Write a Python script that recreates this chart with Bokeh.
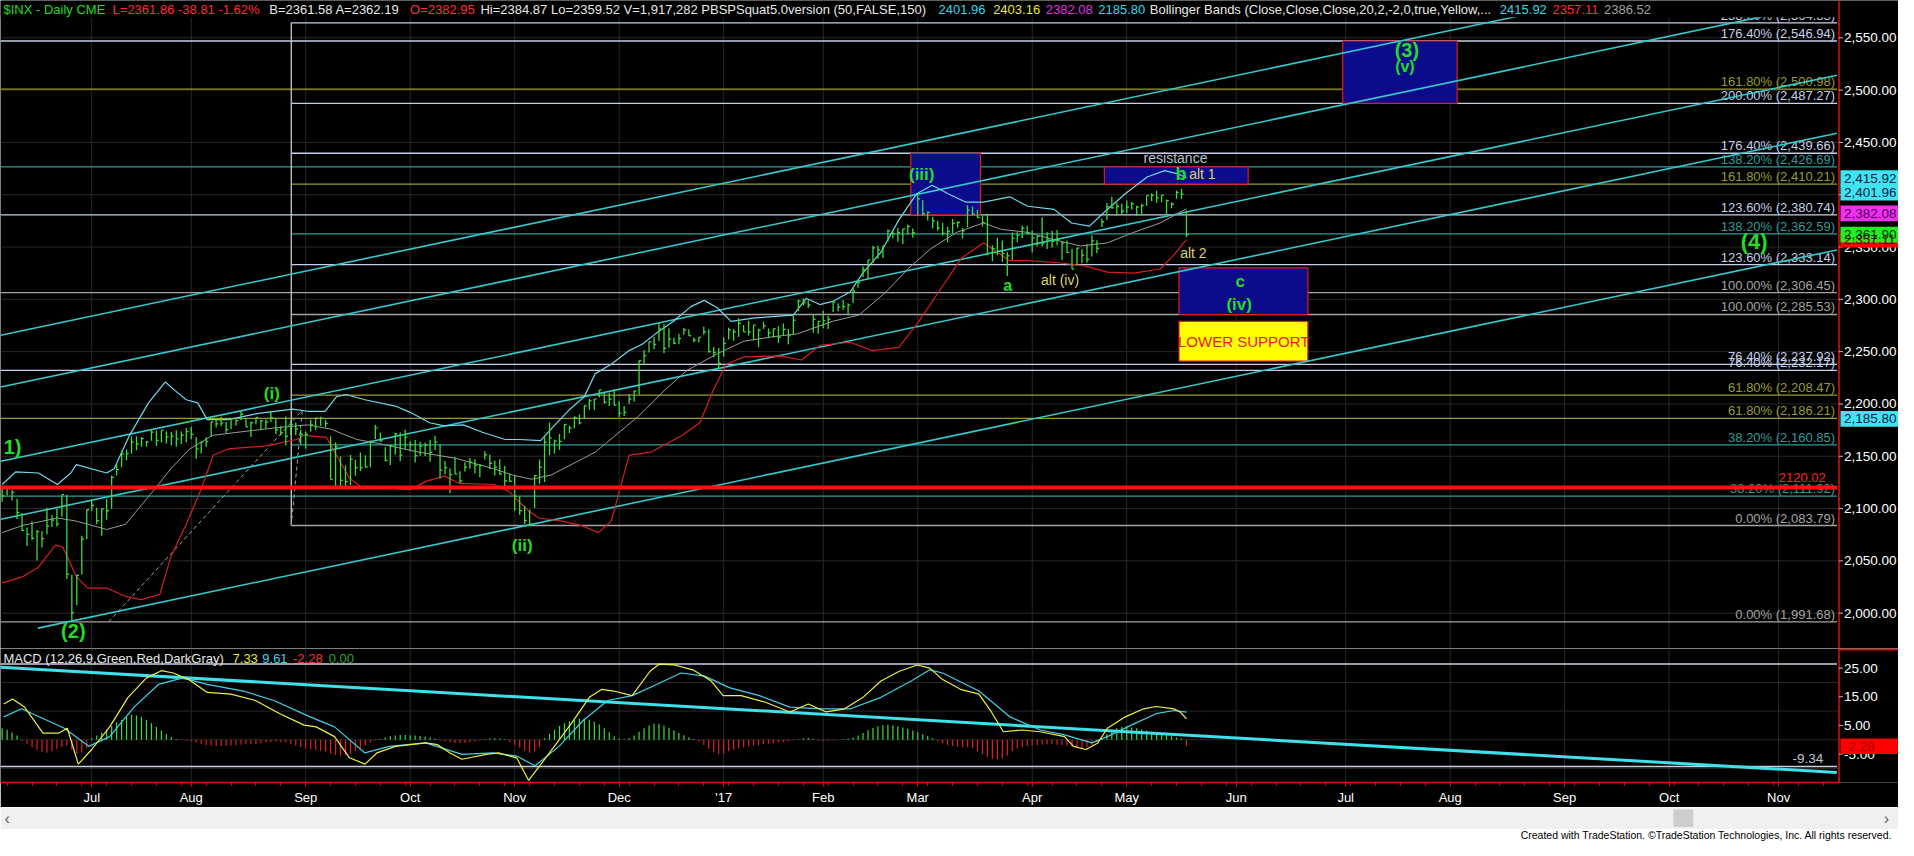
from bokeh.plotting import figure
from bokeh.models import Range1d, LinearAxis, FixedTicker
from bokeh.layouts import column
from bokeh.embed import file_html
from bokeh.resources import INLINE
from bokeh.core.properties import value

# ---------------- DATA ----------------
month_labels = ["Jul", "Aug", "Sep", "Oct", "Nov", "Dec", "'17", "Feb", "Mar", "Apr", "May",
                "Jun", "Jul", "Aug", "Sep", "Oct", "Nov"]
month_bar = [0, 20, 43, 64, 85, 106, 127, 147, 166, 189, 208, 230, 252, 273, 296, 317, 339]
first_bar = -18  # Jun 7 2016 (bar 0 = Jul 1 2016)

high = [2119.22, 2120.55, 2117.64, 2109.29, 2095.66, 2081.93, 2087.74, 2079.62, 2078.23, 2100.83, 2093.66, 2099.71, 2113.32, 2113.32, 2036.71, 2036.86, 2074.03, 2098.94,
        2108.71, 2100.72, 2100.12, 2109.08, 2131.71, 2143.16, 2155.40, 2156.45, 2168.99, 2169.05, 2168.35, 2164.63, 2175.63, 2174.56, 2175.11, 2173.71, 2173.54, 2174.98, 2173.71, 2177.09,
        2178.29, 2168.09, 2163.95, 2168.19, 2182.87, 2185.44, 2187.66, 2182.81, 2185.83, 2186.28, 2193.81, 2186.28, 2183.08, 2187.03, 2185.00, 2185.15, 2193.42, 2186.66, 2179.00, 2187.94, 2183.48, 2182.27, 2175.10,
        2173.56, 2184.87, 2186.57, 2187.87, 2184.94, 2169.08, 2163.30, 2149.99, 2141.33, 2151.31, 2146.48, 2153.61, 2150.80, 2165.11, 2179.99, 2172.67, 2158.54, 2161.13, 2172.40, 2172.67, 2175.30,
        2164.41, 2165.46, 2163.95, 2162.93, 2165.86, 2169.60, 2161.56, 2145.36, 2138.19, 2149.19, 2135.61, 2144.38, 2148.44, 2147.18, 2142.63, 2154.79, 2151.44, 2145.73, 2147.13, 2140.72, 2133.25,
        2131.45, 2111.76, 2102.56, 2099.07, 2132.00, 2146.87, 2170.10, 2182.30, 2165.92, 2171.36, 2180.84, 2179.22, 2188.06, 2189.89, 2198.70, 2204.80, 2204.72, 2213.35, 2211.10, 2210.46, 2214.10,
        2202.60, 2197.95, 2209.42, 2212.78, 2241.63, 2251.69, 2259.80, 2264.03, 2277.53, 2276.20, 2272.12, 2263.32, 2267.02, 2272.56, 2271.23, 2263.43, 2263.79, 2273.82, 2271.31, 2254.51, 2253.58,
        2263.88, 2272.82, 2271.50, 2282.10, 2275.49, 2279.27, 2275.32, 2271.78, 2278.68, 2272.08, 2272.01, 2274.33, 2276.96, 2271.78, 2284.63, 2299.55, 2300.99, 2299.02, 2286.01, 2279.09,
        2289.14, 2283.97, 2298.31, 2296.18, 2299.40, 2295.91, 2311.08, 2319.23, 2331.58, 2337.58, 2351.30, 2351.31, 2351.16, 2366.71, 2365.13, 2368.26, 2367.34, 2371.54, 2367.79,
        2400.98, 2394.75, 2383.89, 2378.80, 2375.12, 2373.09, 2369.08, 2376.86, 2374.42, 2368.55, 2390.01, 2388.71, 2385.71, 2379.50, 2381.93, 2351.81, 2358.92, 2356.22, 2344.90, 2363.78, 2364.16, 2370.35, 2370.42,
        2365.87, 2360.53, 2378.36, 2364.06, 2365.51, 2366.37, 2355.22, 2356.18, 2348.26, 2349.14, 2348.35, 2352.63, 2361.38, 2356.56, 2376.98, 2392.10, 2398.16, 2392.35, 2391.36,
        2394.49, 2392.93, 2389.82, 2391.43, 2399.29, 2401.36, 2403.87, 2399.73, 2395.46, 2392.92, 2404.05, 2405.77, 2384.87]
low = [2106.44, 2112.41, 2107.73, 2089.96, 2078.46, 2064.10, 2070.11, 2050.37, 2062.84, 2075.37, 2082.57, 2082.88, 2092.21, 2032.57, 1991.68, 2007.64, 2036.99, 2070.77,
       2097.90, 2085.10, 2074.02, 2089.39, 2099.73, 2131.71, 2139.58, 2146.21, 2152.49, 2155.79, 2159.07, 2159.01, 2164.89, 2159.75, 2163.24, 2161.95, 2160.18, 2159.07, 2161.66, 2163.49,
       2166.21, 2147.58, 2152.63, 2159.07, 2168.56, 2177.85, 2178.61, 2172.00, 2175.90, 2179.42, 2184.61, 2178.14, 2168.50, 2180.46, 2175.13, 2175.96, 2182.80, 2171.25, 2169.74, 2160.39, 2170.19, 2170.41, 2161.14,
       2157.09, 2173.59, 2175.10, 2179.07, 2177.49, 2127.81, 2119.12, 2120.33, 2119.90, 2122.36, 2131.20, 2135.91, 2139.17, 2139.57, 2166.52, 2163.97, 2145.04, 2141.55, 2151.79, 2145.20, 2156.51,
       2154.77, 2144.01, 2150.60, 2150.28, 2144.85, 2156.08, 2128.84, 2132.77, 2114.72, 2132.98, 2124.43, 2135.49, 2138.15, 2133.44, 2130.09, 2146.91, 2137.50, 2131.59, 2132.52, 2119.36, 2125.53,
       2097.85, 2094.00, 2085.23, 2083.79, 2100.59, 2123.56, 2125.35, 2151.17, 2152.49, 2156.08, 2166.38, 2172.20, 2176.65, 2180.38, 2186.43, 2194.51, 2194.11, 2206.27, 2200.36, 2198.15, 2198.81,
       2187.44, 2188.37, 2199.97, 2202.21, 2208.93, 2237.57, 2249.23, 2252.37, 2260.28, 2248.44, 2253.77, 2257.09, 2257.02, 2266.14, 2265.15, 2258.84, 2258.84, 2266.15, 2249.11, 2244.56, 2233.62,
       2245.13, 2261.60, 2260.45, 2264.06, 2268.90, 2265.27, 2260.83, 2254.25, 2271.51, 2262.81, 2263.35, 2258.41, 2265.01, 2257.02, 2266.68, 2288.88, 2294.08, 2291.62, 2268.04, 2267.21,
       2272.44, 2271.65, 2287.88, 2288.57, 2290.16, 2285.38, 2296.61, 2311.10, 2321.42, 2319.39, 2334.81, 2338.87, 2339.58, 2355.09, 2358.34, 2355.09, 2352.87, 2361.87, 2358.96,
       2380.13, 2380.17, 2375.39, 2367.98, 2365.51, 2361.01, 2354.54, 2363.04, 2368.52, 2358.18, 2368.94, 2380.11, 2377.64, 2369.66, 2341.90, 2336.45, 2342.13, 2335.74, 2322.25, 2337.63, 2354.68, 2358.58, 2362.60,
       2344.73, 2350.72, 2350.52, 2348.23, 2349.61, 2351.50, 2337.25, 2344.51, 2328.95, 2332.51, 2334.54, 2335.05, 2340.91, 2344.14, 2369.19, 2375.91, 2386.78, 2380.15, 2380.60,
       2382.36, 2385.82, 2379.75, 2380.35, 2389.38, 2393.92, 2392.44, 2392.79, 2381.68, 2387.19, 2396.05, 2396.05, 2359.52]
close = [2112.13, 2119.12, 2115.48, 2096.07, 2079.06, 2075.32, 2071.50, 2077.99, 2071.22, 2083.25, 2088.90, 2085.45, 2113.32, 2037.41, 2000.54, 2036.09, 2070.77, 2098.86,
         2102.95, 2088.55, 2099.73, 2097.90, 2129.90, 2137.16, 2152.14, 2152.43, 2163.75, 2161.74, 2166.89, 2163.78, 2173.02, 2165.17, 2175.03, 2168.48, 2169.18, 2166.58, 2170.06, 2173.60,
         2170.84, 2157.03, 2163.79, 2164.25, 2182.87, 2180.89, 2181.74, 2175.49, 2185.79, 2184.05, 2190.15, 2178.15, 2182.22, 2187.02, 2183.87, 2182.64, 2186.90, 2175.44, 2172.47, 2169.04, 2180.38, 2176.12, 2170.95,
         2170.86, 2179.98, 2186.48, 2186.16, 2181.30, 2127.81, 2159.04, 2127.02, 2125.77, 2147.26, 2139.16, 2139.12, 2139.76, 2163.12, 2177.18, 2164.69, 2146.10, 2159.93, 2171.37, 2151.13, 2168.27,
         2161.20, 2150.49, 2159.73, 2160.77, 2153.74, 2163.66, 2136.73, 2139.18, 2132.55, 2132.98, 2126.50, 2139.60, 2144.29, 2141.34, 2141.16, 2151.33, 2143.16, 2139.43, 2133.04, 2126.41, 2126.15,
         2111.72, 2097.94, 2088.66, 2085.18, 2131.52, 2139.56, 2163.26, 2167.48, 2164.45, 2164.20, 2180.39, 2176.94, 2187.12, 2181.90, 2198.18, 2202.94, 2204.72, 2213.35, 2201.72, 2204.66, 2198.81,
         2191.08, 2191.95, 2204.71, 2212.23, 2241.35, 2246.19, 2259.53, 2256.96, 2271.72, 2253.28, 2262.03, 2258.07, 2262.53, 2270.76, 2265.18, 2260.96, 2263.79, 2268.88, 2249.92, 2249.26, 2238.83,
         2257.83, 2270.75, 2269.00, 2276.98, 2268.90, 2268.90, 2275.32, 2270.44, 2274.64, 2267.89, 2271.89, 2263.69, 2271.31, 2265.20, 2280.07, 2298.37, 2296.68, 2294.69, 2280.90, 2278.87,
         2279.55, 2280.85, 2297.42, 2292.56, 2293.08, 2294.67, 2307.87, 2316.10, 2328.25, 2337.58, 2349.25, 2347.22, 2351.16, 2365.38, 2362.82, 2363.81, 2367.34, 2369.75, 2363.64,
         2395.96, 2381.92, 2383.12, 2375.31, 2368.39, 2362.98, 2364.87, 2372.60, 2373.47, 2365.45, 2385.26, 2381.38, 2378.25, 2373.47, 2344.02, 2348.45, 2345.96, 2343.98, 2341.59, 2358.57, 2361.13, 2368.06, 2362.72,
         2358.84, 2360.16, 2352.95, 2357.49, 2355.54, 2357.16, 2353.78, 2344.93, 2328.95, 2349.01, 2342.19, 2338.17, 2355.84, 2348.69, 2374.15, 2388.61, 2387.45, 2388.77, 2384.20,
         2388.33, 2391.17, 2388.13, 2389.52, 2399.29, 2399.38, 2396.92, 2399.63, 2394.44, 2390.90, 2402.32, 2400.67, 2361.86]

# Bollinger bands (vertices)
bb_up_bar = [-18, -15.3, -10.7, -6.9, -4.2, -3.1, 3, 4.5, 7.6, 11.4, 14.8, 16.7, 19, 21.3, 23.2, 27.4, 33.5, 40.4, 43.4, 46.9, 49.2, 51.1, 54.9, 61, 64, 67.9, 70.9, 74.7, 78.5, 83.1, 86, 90.2, 92.9, 96.1, 99, 101.2, 104.4, 108, 110.6, 113.3, 116.9, 120.4, 123.1, 125.7, 128.5, 132.9, 138.2, 141, 143.6, 146.3, 148.9, 152.4, 155.1, 158.6, 162.2, 165.8, 168.9, 172.1, 175.6, 179.2, 184.5, 188.1, 193.4, 196.9, 200.5, 203.2, 207.7, 212.1, 215.6, 218.3, 220]
bb_up_val = [2123, 2135, 2134, 2123, 2134, 2142, 2134, 2138, 2170, 2201, 2221, 2213, 2204, 2201, 2185, 2185, 2191, 2195, 2193, 2193, 2207, 2209, 2204, 2198, 2192, 2182, 2179, 2180, 2173, 2166, 2166, 2165, 2179, 2195, 2207, 2229, 2238, 2251, 2257, 2267, 2279, 2293, 2299, 2292, 2279, 2282, 2284, 2285, 2301, 2295, 2298, 2307, 2326, 2345, 2376, 2401, 2409, 2401, 2393, 2393, 2398, 2389, 2386, 2373, 2370, 2382, 2401, 2417, 2423, 2420, 2416]
bb_mid_bar = [-18, -13.8, -6.9, -3.1, 3, 6.8, 12.2, 15.9, 19.7, 24.3, 31.2, 36.6, 43.4, 48, 53.3, 57.9, 65.6, 73.2, 80.8, 84.6, 88.4, 92.3, 94.7, 97.6, 101.2, 103.5, 109.8, 115.1, 119.6, 125.7, 131.1, 136.5, 141.8, 148.9, 154.2, 159.6, 164, 168.5, 173.8, 179.2, 182.7, 188.1, 193.4, 198.7, 204.1, 209.4, 214.7, 220]
bb_mid_val = [2077, 2084, 2091, 2088, 2080, 2085, 2116, 2138, 2157, 2170, 2174, 2177, 2180, 2176, 2166, 2162, 2154, 2148, 2138, 2132, 2128, 2132, 2138, 2145, 2154, 2163, 2188, 2213, 2232, 2248, 2260, 2264, 2267, 2279, 2285, 2307, 2329, 2348, 2364, 2373, 2367, 2364, 2357, 2351, 2354, 2364, 2373, 2386.5]
bb_low_bar = [-18, -13.8, -10.7, -7.3, -5.8, -3.1, -0.8, 3, 6.8, 9.9, 13.7, 15.9, 19, 22.1, 24.4, 27.4, 35.1, 41.2, 42.7, 47.2, 48.8, 51.8, 54.1, 58.7, 64, 67.1, 70.9, 73.9, 80.8, 83.9, 87.7, 89.9, 94.5, 98.3, 101.8, 104.4, 108, 112.4, 118.7, 122.2, 124.9, 127.5, 131.1, 138.2, 142.7, 146.3, 152.4, 156.9, 162.2, 165.8, 170.2, 174.7, 179.2, 184.5, 188.1, 194.3, 199.6, 204.1, 209.4, 214.7, 217.4, 220]
bb_low_val = [2029, 2035, 2044, 2065, 2063, 2035, 2024, 2024, 2016, 2013, 2018, 2054, 2085, 2120, 2151, 2157, 2160, 2166, 2170, 2168, 2154, 2129, 2121, 2120, 2118, 2126, 2131, 2124, 2123, 2116, 2098, 2091, 2088, 2084, 2077, 2088, 2151, 2154, 2170, 2182, 2213, 2238, 2245, 2246, 2242, 2256, 2259, 2251, 2254, 2276, 2307, 2339, 2354, 2337, 2337, 2335, 2332, 2326, 2325, 2329, 2342, 2357]

# MACD (vertices) and histogram (one value per bar)
macd_bar = [-17.7, -15.9, -13.5, -9.8, -6.7, -4.9, -2.7, 0, 3.6, 7.3, 11, 14, 16.4, 19.5, 23.2, 28, 32.9, 37.8, 42.7, 45.1, 48.8, 51.8, 54.9, 57.3, 61, 67.1, 69.5, 72, 74.4, 79.3, 81.7, 85.4, 87.8, 91.5, 96.4, 100, 102.5, 104.9, 108.6, 112.2, 114.1, 117.1, 120.8, 124.5, 126.9, 130.5, 135.4, 140.3, 144, 147.6, 151.3, 155, 158.6, 162.3, 165.9, 168.4, 171, 174.6, 178.3, 180.8, 183.2, 186.9, 190.6, 195.5, 197.3, 199.8, 202.2, 204.1, 207.7, 211.4, 213.9, 217.5, 218.7, 220]
macd_val = [12.5, 14.2, 11.4, 2.3, 2.3, 4.0, -8.5, -3.4, 4.5, 14.8, 21.6, 24.1, 23.3, 21.0, 16.5, 15.9, 13.7, 9.1, 5.1, 4.5, 1.1, -6.3, -8.5, -4.6, -2.3, -1.1, -1.7, -4.6, -6.8, -5.1, -4.6, -6.3, -14.2, -5.7, 5.7, 14.8, 17.6, 17.0, 15.4, 23.9, 26.4, 26.1, 24.4, 20.5, 15.4, 15.4, 13.1, 9.7, 12.5, 9.7, 10.8, 14.8, 20.5, 23.9, 26.1, 25.0, 21.0, 17.6, 15.9, 9.7, 2.8, 3.4, 2.8, 1.1, -2.3, -3.4, -1.1, 4.0, 8.0, 10.8, 11.6, 10.8, 9.7, 7.33]
signal_bar = [-17.7, -14.1, -9.8, -5.5, -0.6, 3.6, 8.5, 13.4, 18.3, 23.2, 30.5, 36.6, 43.9, 48.8, 54.9, 59.8, 67.1, 74.4, 80.5, 85.4, 89.1, 93.9, 98.8, 103.7, 108.6, 113.5, 118.4, 123.2, 128.1, 134.2, 140.3, 146.4, 152.5, 158.6, 164.7, 168.4, 171, 178.3, 184.5, 190.6, 195.5, 201, 204.1, 208.9, 213.9, 217.5, 220]
signal_val = [8.0, 10.8, 7.4, 4.0, -2.3, 1.1, 11.4, 19.3, 21.6, 19.3, 17.0, 13.7, 8.0, 4.5, -4.6, -2.3, -1.1, -5.1, -4.6, -5.7, -9.1, -2.3, 6.8, 13.7, 15.4, 19.3, 23.3, 22.2, 18.2, 15.4, 11.4, 10.8, 10.8, 14.8, 20.5, 24.4, 23.3, 17.0, 8.0, 3.4, 1.7, -1.1, 1.1, 5.1, 9.1, 10.2, 9.61]
hist = [4.0, 3.5, 2.5, 1.5,
        -0.5, -1.5, -2.5, -3.5, -4.2, -4.5, -4.0, -3.2, -2.5, -2.0,
        -3.5, -5.0, -4.5, -3.0,
        0.5, 1.5, 2.5, 3.5, 4.8, 6.0, 7.0, 8.0, 8.6, 8.5, 8.0, 7.0, 5.8, 4.5, 3.2, 2.0, 1.0, 0.3,
        0.0, -0.2, -0.5,
        -1.0, -1.5, -1.8, -2.0, -2.2, -2.3, -2.2, -2.0, -1.8, -1.7, -1.6, -1.6, -1.5, -1.3, -1.0, -0.8,
        -0.6, -0.8, -1.0, -1.5,
        -2.0, -2.5, -3.0, -3.3, -3.5, -3.8, -4.2, -4.8, -5.3, -5.5, -5.3, -4.8, -4.0, -3.0, -2.0, -1.0, -0.3,
        0.3, 0.8, 1.2, 1.5, 1.7, 1.7, 1.6, 1.5, 1.3, 1.1, 0.8, 0.4,
        -0.3, -0.6, -0.9, -1.1, -1.2, -1.1, -0.9, -0.6, -0.3,
        0.2, 0.4, 0.5, 0.4, 0.2,
        -0.8, -1.8, -2.8, -3.8, -4.5, -4.0, -2.5,
        0.5, 2.0, 3.5, 4.8, 5.8, 6.5, 7.0, 7.3, 7.4, 7.0, 6.3, 5.3, 4.0, 2.6, 1.2,
        0.4, 0.2, 0.5,
        1.5, 2.8, 4.0, 5.0, 5.6, 5.6, 5.0, 4.2, 3.3, 2.4, 1.6, 0.9, 0.3,
        -0.5, -1.8, -3.2, -4.4, -5.1, -4.8, -4.0, -3.5, -3.0, -2.6, -2.3, -2.0, -1.8, -1.6, -1.4, -1.2, -1.0, -0.8, -0.5,
        -0.2, 0.2, 0.5, 0.6, 0.3, -0.3, -0.5, -0.4, -0.2, 0.0, 0.2, 0.4, 0.8,
        1.5, 2.4, 3.3, 4.1, 4.7, 5.1, 5.2, 5.0, 4.7, 4.3, 3.8, 3.2, 2.6, 1.9, 1.2, 0.5,
        -0.5, -1.2, -1.8, -2.2, -2.4, -2.6, -2.5, -3.0, -4.0, -5.0, -6.0, -6.6, -6.8, -6.5, -5.5, -4.0, -3.0, -2.5, -2.2, -2.0,
        -1.8, -1.7, -1.6, -1.6, -1.7, -1.8, -2.0, -2.5, -2.8, -3.0, -2.6, -1.8, -0.8, 0.5, 2.0, 3.2, 4.0, 4.5, 4.5, 4.3,
        4.0, 3.6, 3.2, 2.8, 2.4, 2.0, 1.6, 1.2, 0.8, 0.4, -2.28]
macd_top_line = 26.4
macd_bottom_line = -9.34
macd_trend_bar = [-18.3, 350.7]
macd_trend_val = [25.3, -11.4]
macd_ticks = [-5, 5, 15, 25]
macd_grid = [-10, 0, 10, 20]

# price axis ticks
price_ticks = [2000, 2050, 2100, 2150, 2200, 2250, 2300, 2350, 2400, 2450, 2500, 2550]

# Fibonacci levels
fibA_pct = [0.0, 38.2, 61.8, 76.4, 100.0, 123.6, 138.2, 161.8, 176.4]
fibA_val = [1991.68, 2111.92, 2186.21, 2232.17, 2306.45, 2380.74, 2426.69, 2500.98, 2546.94]
fibB_pct = [0.0, 38.2, 61.8, 76.4, 100.0, 123.6, 138.2, 161.8, 176.4, 200.0, 238.2]
fibB_val = [2083.79, 2160.85, 2208.47, 2237.92, 2285.53, 2333.14, 2362.59, 2410.21, 2439.66, 2487.27, 2564.33]
fibB_start_bar = 40.1
fibtool_bar = [3.4, 42.3, 40.1]
fibtool_val = [1991.68, 2193.81, 2083.79]
support_line = 2120.02

# parallel channel lines: price at bar 0 and slope (points per bar)
chan_p0 = [2284.0, 2234.5, 2163.5, 2108.0, 1996.5]
chan_start = [-18.3, -18.3, -18.3, -18.3, -10.8]
chan_slope = 1.0

# target boxes
box_left = [164.6, 203.5, 218.5, 218.5, 251.4]
box_right = [178.6, 232.4, 244.4, 244.4, 274.4]
box_top = [2439.66, 2426.69, 2330.0, 2279.0, 2546.94]
box_bottom = [2380.74, 2410.21, 2285.53, 2241.0, 2487.27]
box_fill = ["#0b0b8c", "#0b0b8c", "#0b0b8c", "#ffff00", "#0b0b8c"]

# wave labels
wave_text = ["1)", "(2)", "(i)", "(ii)", "(iii)", "a", "b", "c", "(iv)", "(3)", "(v)", "(4)"]
wave_bar = [-15.9, -3.7, 36.2, 86.5, 166.8, 184.1, 218.9, 230.8, 230.6, 264.3, 263.9, 334.1]
wave_val = [2158.6, 1983.4, 2210.3, 2064.8, 2419.6, 2313.5, 2419.5, 2316.6, 2295.4, 2538.7, 2523.0, 2355.7]
wave_size = ["20px", "20px", "17px", "17px", "17px", "16px", "18px", "17px", "17px", "20px", "16px", "22px"]
alt_text = ["alt (iv)", "alt 2", "alt 1"]
alt_bar = [194.6, 221.4, 223.2]
alt_val = [2318.2, 2344.7, 2419.5]

# last-value tags on the price axis
tag_val = [2415.92, 2401.96, 2382.08, 2357.11, 2361.90, 2185.80]
tag_bg = ["#3fe4f2", "#3fe4f2", "#f030f0", "#ff0000", "#22ee22", "#3fe4f2"]
tag_fg = ["#002040", "#002040", "#500050", "#600000", "#003000", "#002040"]

# ---------------- LAYOUT HELPERS ----------------
SY = 840 / 856
def bx(px):   # reference pixel x -> bar index
    return (px - 92.0) / 5.018
def py(yp):   # reference pixel y -> price
    return 2550.0 - (yp - 38.0) / 1.0655
def my(yp):   # reference pixel y -> MACD value
    return (753.3 - yp) / 2.93

FONT = "Liberation Sans"
GREEN = "#22dd22"
GRID = "#282828"
AXRED = "#e01010"
AXFS = "13.5px"
xr = Range1d(bx(0), bx(1914))
X_AX = bx(1854)
X_END = bx(1852)

def fib_color(pct):
    if pct in (0.0, 100.0):
        return "#a4a4a4"
    if pct in (38.2, 138.2):
        return "#329a9a"
    if pct in (61.8, 161.8):
        return "#9a9a34"
    return "#c6d0ea"

def txt(p, x, y, s, color, size="13px", align="left", baseline="middle", bold=False):
    p.text(x=x, y=y, text=s, text_color=color, text_font=value(FONT), text_font_size=size,
           text_align=align, text_baseline=baseline, text_font_style="bold" if bold else "normal")

def base_fig(h, yrange, bottom=0, bg="black"):
    f = figure(frame_width=1898, frame_height=h, min_border_top=0, min_border_bottom=bottom,
               min_border_left=0, min_border_right=0, x_range=xr, y_range=yrange,
               x_axis_location=None, y_axis_location=None, toolbar_location=None,
               output_backend="svg", background_fill_color=bg, border_fill_color=bg,
               outline_line_color=None)
    f.xgrid.visible = False
    f.ygrid.visible = False
    return f

# ---------------- PRICE PANEL ----------------
H1 = round(660 * SY)
p1 = base_fig(H1, Range1d(py(660), py(0)))
nt = len(price_ticks)
p1.segment(x0=[xr.start] * nt, x1=[X_AX] * nt, y0=price_ticks, y1=price_ticks, line_color=GRID)
p1.segment(x0=month_bar, x1=month_bar, y0=[py(660)] * len(month_bar), y1=[py(0)] * len(month_bar),
           line_color=GRID)

# fib lines
p1.segment(x0=[xr.start] * len(fibA_val), x1=[X_END] * len(fibA_val), y0=fibA_val, y1=fibA_val,
           line_color=[fib_color(v) for v in fibA_pct], line_width=1.3)
p1.segment(x0=[fibB_start_bar] * len(fibB_val), x1=[X_END] * len(fibB_val), y0=fibB_val, y1=fibB_val,
           line_color=[fib_color(v) for v in fibB_pct], line_width=1.3)
p1.segment(x0=[fibB_start_bar], x1=[fibB_start_bar], y0=[fibB_val[0]], y1=[fibB_val[-1]],
           line_color="#c8c8c8", line_width=1.3)
for pcts, vals in ((fibA_pct, fibA_val), (fibB_pct, fibB_val)):
    txt(p1, [bx(1850)] * len(vals), vals, [f"{a:.2f}% ({v:,.2f})" for a, v in zip(pcts, vals)],
        [fib_color(a) for a in pcts], align="right", baseline="bottom")
p1.line(fibtool_bar, fibtool_val, line_color="#a0a0a0", line_dash="4 3", line_width=1)

# boxes
p1.quad(left=box_left, right=box_right, top=box_top, bottom=box_bottom,
        fill_color=box_fill, line_color="#d82020", line_width=1.2)

# channel lines
p1.segment(x0=chan_start, x1=[X_END] * len(chan_p0),
           y0=[a + chan_slope * s for a, s in zip(chan_p0, chan_start)],
           y1=[a + chan_slope * X_END for a in chan_p0],
           line_color="#35c8cc", line_width=1.6)

# bollinger bands
p1.line(bb_low_bar, bb_low_val, line_color="#d42020", line_width=1.2)
p1.line(bb_mid_bar, bb_mid_val, line_color="#9a9a9a", line_width=1)
p1.line(bb_up_bar, bb_up_val, line_color="#6fd8ec", line_width=1.2)

# price bars
bars = list(range(first_bar, first_bar + len(high)))
p1.segment(x0=bars, x1=bars, y0=low, y1=high, line_color="#3cdc3c", line_width=1.3)
p1.segment(x0=bars, x1=[b + 0.45 for b in bars], y0=close, y1=close, line_color="#3cdc3c", line_width=1.3)

# support line
p1.segment(x0=[xr.start], x1=[X_END], y0=[support_line], y1=[support_line], line_color="#ff1010", line_width=4)
txt(p1, [bx(1817)], [support_line + 5.5 / 1.0655], [f"{support_line:.2f}"], "#ff2020",
    align="center", baseline="bottom")

# annotations
for t, b, v, s in zip(wave_text, wave_bar, wave_val, wave_size):
    txt(p1, [b], [v], [t], GREEN, size=s, align="center", bold=True)
txt(p1, alt_bar, alt_val, alt_text, "#d8d474", size="14px", align="center")
txt(p1, [217.8], [2434.8], ["resistance"], "#b8c0d0", size="14px", align="center")
txt(p1, [231.5], [2260.0], ["LOWER SUPPORT"], "#e82020", size="15px", align="center")

# header strip
p1.quad(left=[xr.start], right=[xr.end], top=[py(0)], bottom=[py(17)], fill_color="black", line_color=None)
header = [("$INX - Daily  CME", 3, "#22dd22"), ("L=2361.86  -38.81  -1.62%", 113, "#ff3030"),
          ("B=2361.58  A=2362.19", 271, "#e8e8e8"), ("O=2382.95", 413, "#ff3030"),
          ("Hi=2384.87  Lo=2359.52  V=1,917,282  PBSPSquat5.0version (50,FALSE,150)", 484, "#e8e8e8"),
          ("2401.96", 946, "#30d8e8"), ("2403.16", 1001, "#e8e830"), ("2382.08", 1054, "#e030e0"),
          ("2185.80", 1107, "#30d8e8"),
          ("Bollinger Bands (Close,Close,Close,20,2,-2,0,true,Yellow,...", 1159, "#e8e8e8"),
          ("2415.92", 1512, "#30d8e8"), ("2357.11", 1565, "#ff3030"), ("2386.52", 1617, "#a0a0a0")]
for s, xp, c in header:
    txt(p1, [bx(xp)], [py(9)], [s], c)

# price axis (drawn through the price scale)
p1.segment(x0=[X_AX], x1=[X_AX], y0=[py(660)], y1=[py(0)], line_color=AXRED, line_width=1.5)
p1.segment(x0=[X_AX] * nt, x1=[bx(1858)] * nt, y0=price_ticks, y1=price_ticks, line_color="#c0c0c0")
txt(p1, [bx(1859)] * nt, price_ticks, [f"{v:,.2f}" for v in price_ticks], "white", size=AXFS)
th = 8.0 / 1.0655
p1.quad(left=[bx(1855.5)] * len(tag_val), right=[xr.end] * len(tag_val),
        top=[v + th for v in tag_val], bottom=[v - th for v in tag_val], fill_color=tag_bg, line_color=None)
txt(p1, [bx(1859)] * len(tag_val), tag_val, [f"{v:,.2f}" for v in tag_val], tag_fg, size=AXFS)

# ---------------- MACD PANEL ----------------
H2 = round(137 * SY)
p2 = base_fig(H2, Range1d(my(797), my(660)), bottom=23)
ng = len(macd_grid)
p2.segment(x0=[xr.start] * ng, x1=[X_AX] * ng, y0=macd_grid, y1=macd_grid, line_color=GRID)
p2.segment(x0=month_bar, x1=month_bar, y0=[my(797)] * len(month_bar), y1=[my(660)] * len(month_bar),
           line_color=GRID)
d_ax = LinearAxis(ticker=FixedTicker(ticks=month_bar, minor_ticks=list(range(-17, 352, 5))),
                  major_label_overrides={b: l for b, l in zip(month_bar, month_labels)},
                  bounds=(xr.start, X_AX),
                  axis_line_color=AXRED, axis_line_width=1.5, major_tick_line_color=AXRED,
                  minor_tick_line_color=AXRED, major_tick_in=0, major_tick_out=4, minor_tick_in=0,
                  minor_tick_out=3, major_label_text_color="white", major_label_text_font=FONT,
                  major_label_text_font_size="13px", major_label_standoff=3)
p2.add_layout(d_ax, "below")

p2.segment(x0=[xr.start, xr.start], x1=[X_END, X_END], y0=[macd_top_line, macd_bottom_line],
           y1=[macd_top_line, macd_bottom_line], line_color="#c8d0e0", line_width=1.5)
txt(p2, [bx(1807)], [my(772)], [f"{macd_bottom_line:.2f}"], "#c0c8d8", size=AXFS)
hbars = list(range(first_bar, first_bar + len(hist)))
p2.segment(x0=hbars, x1=hbars, y0=[0] * len(hist), y1=hist,
           line_color=["#3cdc3c" if h >= 0 else "#e02020" for h in hist], line_width=1.2)
p2.line(macd_trend_bar, macd_trend_val, line_color="#3ee0ea", line_width=3)
p2.line(signal_bar, signal_val, line_color="#40d0e6", line_width=1.2)
p2.line(macd_bar, macd_val, line_color="#eeee44", line_width=1.2)

mhead = [("MACD (12,26,9,Green,Red,DarkGray)", 3, "#e8e8e8"), ("7.33", 234, "#e8e830"),
         ("9.61", 264, "#30d8e8"), ("-2.28", 295, "#ff3030"), ("0.00", 331, "#30a030")]
for s, xp, c in mhead:
    txt(p2, [bx(xp)], [my(670)], [s], c)

# MACD axis
nm = len(macd_ticks)
p2.segment(x0=[X_AX], x1=[X_AX], y0=[my(797)], y1=[my(660)], line_color=AXRED, line_width=1.5)
p2.segment(x0=[X_AX], x1=[xr.end], y0=[my(661)], y1=[my(661)], line_color=AXRED, line_width=2)
p2.segment(x0=[X_AX] * nm, x1=[bx(1858)] * nm, y0=macd_ticks, y1=macd_ticks, line_color="#c0c0c0")
txt(p2, [bx(1859)] * nm, macd_ticks, [f"{v:.2f}" for v in macd_ticks], "white", size=AXFS)
mh = 8.0 / 2.93
p2.quad(left=[bx(1855.5)], right=[xr.end], top=[hist[-1] + mh], bottom=[hist[-1] - mh],
        fill_color="#ff0000", line_color=None)
txt(p2, [bx(1859)], [hist[-1]], [f"{hist[-1]:.2f}"], "#a00000", size=AXFS)

# ---------------- SCROLLBAR / FOOTER ----------------
p3 = figure(frame_width=1898, frame_height=840 - H1 - H2 - 23,
            x_range=Range1d(0, 1914), y_range=Range1d(856, 820),
            x_axis_location=None, y_axis_location=None, toolbar_location=None, output_backend="svg",
            background_fill_color="white", border_fill_color="white", outline_line_color=None,
            min_border=0)
p3.xgrid.visible = False
p3.ygrid.visible = False
p3.quad(left=[0], right=[1914], top=[820], bottom=[842], fill_color="#f0f0f0", line_color=None)
p3.quad(left=[1687], right=[1707], top=[822], bottom=[840], fill_color="#cdcdcd", line_color=None)
txt(p3, [4, 1899], [831, 831], ["\u2039", "\u203a"], "#606060", size="16px")
txt(p3, [1533], [848], ["Created with TradeStation. \u00a9TradeStation Technologies, Inc. All rights reserved."],
    "black", size="10.5px")

layout = column(p1, p2, p3, spacing=0)
open("out.html", "w").write(file_html(layout, INLINE))
